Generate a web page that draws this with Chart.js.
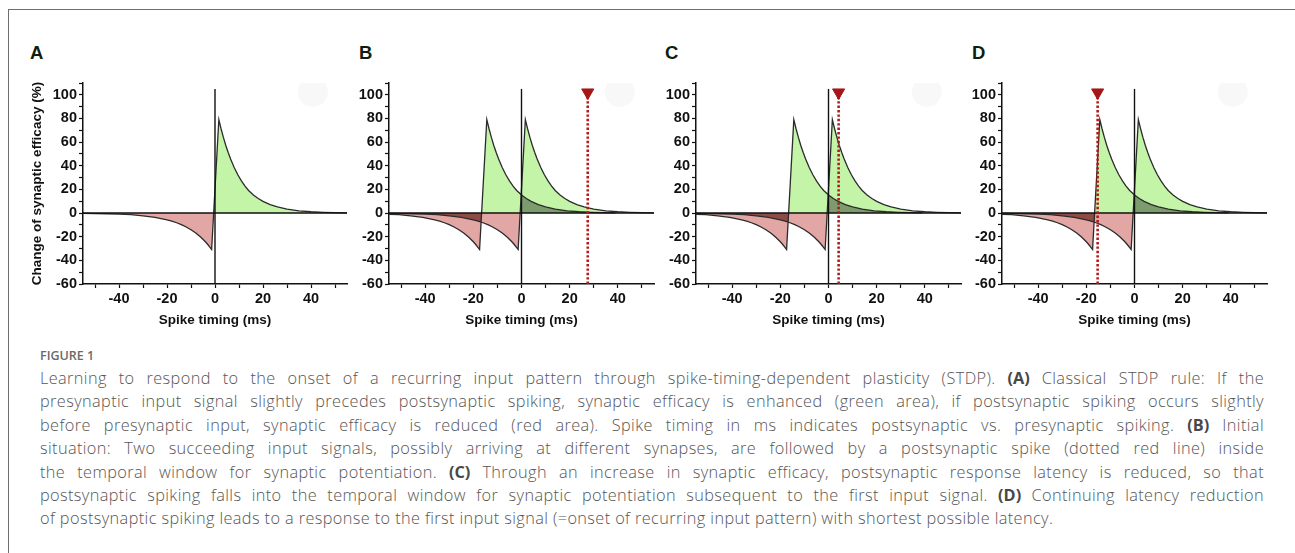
<!DOCTYPE html>
<html>
<head>
<meta charset="utf-8">
<script src="https://cdn.jsdelivr.net/npm/chart.js@4.4.1/dist/chart.umd.min.js"></script>
<style>
html,body{margin:0;padding:0;background:#fff;}
body{width:1295px;height:553px;position:relative;overflow:hidden;}
.frame{position:absolute;left:8px;top:9px;width:1300px;height:560px;border-left:1px solid #6e6e6e;border-top:1px solid #6e6e6e;}
canvas{position:absolute;}
.letter{position:absolute;top:44px;font:bold 18.5px "Liberation Sans",Arial,sans-serif;line-height:1;color:#0f1f0f;}
.fig{position:absolute;left:40px;top:348px;font:600 12.5px "Open Sans",sans-serif;color:#6a6a6a;line-height:1.2;}
.cap{position:absolute;left:40px;top:367px;width:1224px;font:300 16.3px "Open Sans",sans-serif;color:#555;line-height:23.4px;letter-spacing:0.4px;}
.cap div{text-align:justify;text-align-last:justify;}
.cap div.last{text-align-last:left;}
.cap b{color:#484848;font-weight:700;letter-spacing:0;}
</style>
</head>
<body>
<div class="frame"></div>
<div class="letter" style="left:30px">A</div>
<div class="letter" style="left:359px">B</div>
<div class="letter" style="left:665px">C</div>
<div class="letter" style="left:972px">D</div>
<canvas id="cA" width="337" height="264" style="left:25px;top:68px"></canvas>
<canvas id="cB" width="330" height="264" style="left:339px;top:68px"></canvas>
<canvas id="cC" width="330" height="264" style="left:646px;top:68px"></canvas>
<canvas id="cD" width="330" height="264" style="left:952px;top:68px"></canvas>
<div class="fig">FIGURE 1</div>
<div class="cap">
<div>Learning to respond to the onset of a recurring input pattern through spike-timing-dependent plasticity (STDP). <b>(A)</b> Classical STDP rule: If the</div>
<div>presynaptic input signal slightly precedes postsynaptic spiking, synaptic efficacy is enhanced (green area), if postsynaptic spiking occurs slightly</div>
<div>before presynaptic input, synaptic efficacy is reduced (red area). Spike timing in ms indicates postsynaptic vs. presynaptic spiking. <b>(B)</b> Initial</div>
<div>situation: Two succeeding input signals, possibly arriving at different synapses, are followed by a postsynaptic spike (dotted red line) inside</div>
<div>the temporal window for synaptic potentiation. <b>(C)</b> Through an increase in synaptic efficacy, postsynaptic response latency is reduced, so that</div>
<div>postsynaptic spiking falls into the temporal window for synaptic potentiation subsequent to the first input signal. <b>(D)</b> Continuing latency reduction</div>
<div class="last">of postsynaptic spiking leads to a response to the first input signal (=onset of recurring input pattern) with shortest possible latency.</div>
</div>
<script>
// ---- data ----
const stdpTiming = [-55,-50,-45,-40,-35,-30,-25,-20,-18,-16,-14,-12,-10,-8,-6,-4,-3,-2,-1.4,
  1.6,2.5,3.5,4.5,5.5,6.5,8,9.5,11,12.5,14,16,18,20,23,26,30,35,40,45,50,55];
const stdpChange = [-0.2,-0.4,-0.6,-0.9,-1.4,-2.3,-3.6,-5.7,-6.8,-8.2,-9.8,-11.8,-14.1,-16.9,-20.3,-24.3,-26.6,-29.2,-30.8,
  79,71.5,64.0,57.2,51.2,45.8,38.6,32.4,27.2,22.8,19.1,15.3,12.3,9.9,7.2,5.2,3.4,1.9,1.1,0.6,0.3,0.2];
const panelIds = ['cA','cB','cC','cD'];
const firstInputOnset = [null, -16, -16, -16];   // earlier input signal, panels B-D
const postSpikeTime = [null, 27.5, 4.2, -15.3];  // dotted red line
const postSpikeTop = 102;
const xTickValues = [-50,-40,-30,-20,-10,0,10,20,30,40,50];
const xTickLabels = [-40,-20,0,20,40];
const yTickValues = [-60,-50,-40,-30,-20,-10,0,10,20,30,40,50,60,70,80,90,100,110];
const yTickLabels = [-60,-40,-20,0,20,40,60,80,100];
const xRange = [-55, 55];
const yRange = [-60, 110];
const verticalLineTop = 105;
const glarePoint = {x: 40.8, y: 102.5};

// ---- styles ----
const GREEN = '#c3f4a8', RED = '#e2a7a5';
const DARK_GREEN = '#7d9c6d', DARK_RED = '#8e4a44';
const INK = '#111';

Chart.defaults.font.family = '"Liberation Sans", Arial, sans-serif';
Chart.defaults.font.weight = 'bold';
Chart.defaults.color = INK;

const overlapPlugin = {
  id: 'overlap',
  beforeDatasetsDraw(chart, args, opts) {
    const idx = [];
    chart.data.datasets.forEach((d, i) => { if (d.stdpCurve) idx.push(i); });
    if (idx.length < 2) return;
    const ctx = chart.ctx, a = chart.chartArea;
    const y0 = chart.scales.y.getPixelForValue(0);
    const mk = (i) => {
      const pts = chart.getDatasetMeta(i).data;
      const p = new Path2D();
      p.moveTo(pts[0].x, y0);
      pts.forEach(pt => p.lineTo(pt.x, pt.y));
      p.lineTo(pts[pts.length - 1].x, y0);
      p.closePath();
      return p;
    };
    const p1 = mk(idx[0]), p2 = mk(idx[1]);
    [[a.top, y0, opts.above], [y0, a.bottom, opts.below]].forEach(([t, b, col]) => {
      ctx.save();
      ctx.beginPath(); ctx.rect(a.left, t, a.right - a.left, b - t); ctx.clip();
      ctx.clip(p1);
      ctx.fillStyle = col; ctx.fill(p2);
      ctx.restore();
    });
  }
};

function curveData(shift) {
  return stdpTiming.map((t, i) => ({x: t + shift, y: stdpChange[i]}));
}

function curveDataset(shift) {
  return {
    stdpCurve: true,
    data: curveData(shift),
    borderColor: '#2b2b2b', borderWidth: 1.3, pointRadius: 0, tension: 0,
    fill: {target: 'origin', above: GREEN, below: RED}
  };
}

panelIds.forEach((id, p) => {
  const datasets = [];
  if (postSpikeTime[p] !== null) {
    datasets.push({
      data: [{x: postSpikeTime[p], y: postSpikeTop}],
      showLine: false, pointStyle: 'triangle', rotation: 180, pointRadius: 7,
      backgroundColor: '#a51616', borderColor: '#a51616', borderWidth: 1
    });
    datasets.push({
      data: [{x: postSpikeTime[p], y: yRange[0]}, {x: postSpikeTime[p], y: postSpikeTop}],
      borderColor: '#b11b1b', borderWidth: 2.6, borderDash: [2.4, 2], pointRadius: 0, fill: false
    });
  }
  datasets.push({data: [{x: xRange[0], y: 0}, {x: xRange[1], y: 0}], borderColor: INK, borderWidth: 1.4, pointRadius: 0, fill: false});
  datasets.push({data: [{x: 0, y: yRange[0]}, {x: 0, y: verticalLineTop}], borderColor: INK, borderWidth: 1.4, pointRadius: 0, fill: false});
  datasets.push(curveDataset(0));
  if (firstInputOnset[p] !== null) datasets.push(curveDataset(firstInputOnset[p]));
  datasets.push({data: [glarePoint], showLine: false, pointRadius: 15, backgroundColor: '#f8f8f8', borderWidth: 0});

  const isA = p === 0;
  new Chart(document.getElementById(id), {
    type: 'line',
    data: {datasets},
    plugins: [overlapPlugin],
    options: {
      responsive: false, animation: false, events: [],
      layout: {padding: {left: 0, right: 10, top: 10, bottom: 0}},
      plugins: {
        legend: {display: false}, tooltip: {enabled: false},
        filler: {drawTime: 'beforeDatasetsDraw'},
        overlap: {above: DARK_GREEN, below: DARK_RED}
      },
      scales: {
        x: {
          type: 'linear', position: 'bottom', min: xRange[0], max: xRange[1],
          afterBuildTicks: s => { s.ticks = xTickValues.map(v => ({value: v})); },
          afterFit: s => { s.height = 48; },
          ticks: {autoSkip: false, maxRotation: 0, padding: 2, font: {size: 14.5, weight: 'bold'},
            callback: v => xTickLabels.includes(v) ? String(v) : ''},
          grid: {drawOnChartArea: false, drawTicks: true, tickLength: 4, tickColor: INK, tickWidth: 1.2},
          border: {display: true, color: INK, width: 1.5},
          title: {display: true, text: 'Spike timing (ms)', font: {size: 13.5, weight: 'bold'}, padding: {top: 4, bottom: 4}}
        },
        y: {
          type: 'linear', position: 'left', min: yRange[0], max: yRange[1],
          afterBuildTicks: s => { s.ticks = yTickValues.map(v => ({value: v})); },
          afterFit: s => { s.width = isA ? 58 : 50; },
          ticks: {autoSkip: false, padding: 2, font: {size: 14.5, weight: 'bold'},
            callback: v => yTickLabels.includes(v) ? String(v) : ''},
          grid: {drawOnChartArea: false, drawTicks: true, tickLength: 4, tickColor: INK, tickWidth: 1.2},
          border: {display: true, color: INK, width: 1.5},
          title: {display: isA, text: 'Change of synaptic efficacy (%)', font: {size: 13.5, weight: 'bold'}, padding: {top: 4, bottom: 4}}
        }
      }
    }
  });
});
</script>
</body>
</html>
